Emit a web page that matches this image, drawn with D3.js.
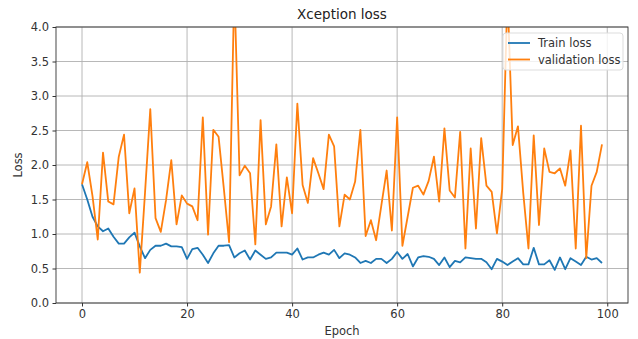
<!DOCTYPE html>
<html>
<head>
<meta charset="utf-8">
<script src="https://cdn.jsdelivr.net/npm/d3@7"></script>
<style>
  body { margin: 0; background: #fff; }
  svg { display: block; font-family: "DejaVu Sans", sans-serif; }
</style>
</head>
<body>
<div id="chart"></div>
<script>
// values, one per epoch
var trainLoss = [
  1.72, 1.50, 1.25, 1.11, 1.04, 1.08, 0.96, 0.86, 0.86, 0.95,
  1.02, 0.82, 0.65, 0.77, 0.83, 0.83, 0.86, 0.82, 0.82, 0.81,
  0.64, 0.78, 0.80, 0.70, 0.58, 0.72, 0.83, 0.83, 0.84, 0.66,
  0.72, 0.76, 0.63, 0.76, 0.70, 0.64, 0.66, 0.73, 0.73, 0.73,
  0.70, 0.79, 0.63, 0.66, 0.66, 0.70, 0.73, 0.70, 0.77, 0.65,
  0.72, 0.70, 0.66, 0.58, 0.61, 0.58, 0.64, 0.64, 0.58, 0.64,
  0.74, 0.64, 0.71, 0.53, 0.66, 0.68, 0.67, 0.64, 0.55, 0.66,
  0.52, 0.61, 0.59, 0.66, 0.65, 0.64, 0.64, 0.59, 0.49, 0.64,
  0.60, 0.55, 0.60, 0.65, 0.56, 0.56, 0.80, 0.56, 0.56, 0.62,
  0.48, 0.66, 0.49, 0.65, 0.60, 0.55, 0.67, 0.63, 0.65, 0.58
];
var valLoss = [
  1.72, 2.04, 1.55, 0.92, 2.18, 1.47, 1.43, 2.12, 2.44, 1.30,
  1.66, 0.44, 1.60, 2.81, 1.23, 1.03, 1.49, 2.07, 1.14, 1.56,
  1.44, 1.40, 1.20, 2.69, 0.99, 2.51, 2.41, 1.66, 0.88, 4.60,
  1.85, 1.99, 1.88, 0.85, 2.65, 1.14, 1.40, 2.30, 1.11, 1.82,
  1.30, 2.89, 1.71, 1.45, 2.10, 1.88, 1.65, 2.44, 2.27, 1.11,
  1.57, 1.50, 1.76, 2.51, 0.97, 1.20, 0.91, 1.42, 1.92, 1.05,
  2.69, 0.83, 1.25, 1.67, 1.70, 1.57, 1.77, 2.12, 1.47, 2.53,
  1.63, 1.53, 2.48, 0.79, 2.24, 1.08, 2.39, 1.70, 1.61, 1.01,
  1.65, 4.50, 2.29, 2.56, 1.60, 0.79, 2.43, 1.13, 2.24, 1.90,
  1.88, 1.95, 1.70, 2.21, 0.79, 2.57, 0.65, 1.70, 1.90, 2.30
];
var xTicks = [0, 20, 40, 60, 80, 100];
var yTicks = [0, 0.5, 1, 1.5, 2, 2.5, 3, 3.5, 4];
var seriesNames = ["Train loss", "validation loss"];
var seriesColors = ["#1f77b4", "#ff7f0e"];

var W = 638, H = 339;
var margin = {top: 27, right: 10, bottom: 36, left: 56};
var iw = W - margin.left - margin.right;
var ih = H - margin.top - margin.bottom;

var svg = d3.select("#chart").append("svg")
  .attr("width", W).attr("height", H);

var x = d3.scaleLinear().domain([-4.95, 103.95]).range([0, iw]);
var y = d3.scaleLinear().domain([0, 4]).range([ih, 0]);

var g = svg.append("g").attr("transform", "translate(" + margin.left + "," + margin.top + ")");

g.append("clipPath").attr("id", "clip")
  .append("rect").attr("width", iw).attr("height", ih);

//grid
g.append("g").selectAll("line").data(xTicks).join("line")
  .attr("x1", function (d) { return x(d); }).attr("x2", function (d) { return x(d); })
  .attr("y1", 0).attr("y2", ih)
  .attr("stroke", "#b0b0b0").attr("stroke-width", 0.9);
g.append("g").selectAll("line").data(yTicks).join("line")
  .attr("x1", 0).attr("x2", iw)
  .attr("y1", function (d) { return y(d); }).attr("y2", function (d) { return y(d); })
  .attr("stroke", "#b0b0b0").attr("stroke-width", 0.9);

//axes
var xAxis = g.append("g").attr("transform", "translate(0," + ih + ")")
  .call(d3.axisBottom(x).tickValues(xTicks).tickSize(3.5).tickPadding(3.5).tickFormat(d3.format("d")));
var yAxis = g.append("g")
  .call(d3.axisLeft(y).tickValues(yTicks).tickSize(3.5).tickPadding(3.5).tickFormat(d3.format(".1f")));
[xAxis, yAxis].forEach(function (a) {
  a.select(".domain").remove();
  a.selectAll("line").attr("stroke", "#333");
  a.selectAll("text").attr("fill", "#333").style("font-size", "11.5px")
    .style("font-family", "DejaVu Sans, sans-serif");
});

//lines
var line = d3.line()
  .x(function (d, i) { return x(i); })
  .y(function (d) { return y(d); });

g.append("g").attr("clip-path", "url(#clip)").selectAll("path")
  .data([trainLoss, valLoss]).join("path")
  .attr("d", line)
  .attr("fill", "none")
  .attr("stroke", function (d, i) { return seriesColors[i]; })
  .attr("stroke-width", 1.8)
  .attr("stroke-linejoin", "round");

//frame
g.append("rect").attr("width", iw).attr("height", ih)
  .attr("fill", "none").attr("stroke", "#333").attr("stroke-width", 0.9);

//labels
svg.append("text").attr("x", margin.left + iw / 2).attr("y", 19)
  .attr("text-anchor", "middle").style("font-size", "13.5px").attr("fill", "#222")
  .text("Xception loss");
svg.append("text").attr("x", margin.left + iw / 2).attr("y", 335)
  .attr("text-anchor", "middle").style("font-size", "11.5px").attr("fill", "#333")
  .text("Epoch");
svg.append("text").attr("transform", "translate(22," + (margin.top + ih / 2) + ") rotate(-90)")
  .attr("text-anchor", "middle").style("font-size", "11.5px").attr("fill", "#333")
  .text("Loss");

//legend
var lg = svg.append("g").attr("transform", "translate(503,33)");
lg.append("rect").attr("width", 120).attr("height", 37).attr("rx", 3)
  .attr("fill", "#fff").attr("fill-opacity", 0.8).attr("stroke", "#ddd");
var items = lg.selectAll("g.item").data(seriesNames).join("g")
  .attr("class", "item")
  .attr("transform", function (d, i) { return "translate(0," + (10 + i * 16.5) + ")"; });
items.append("line").attr("x1", 5).attr("x2", 27)
  .attr("stroke", function (d, i) { return seriesColors[i]; }).attr("stroke-width", 1.8);
items.append("text").attr("x", 35).attr("y", 4)
  .style("font-size", "11.5px").attr("fill", "#333")
  .text(function (d) { return d; });
</script>
</body>
</html>
